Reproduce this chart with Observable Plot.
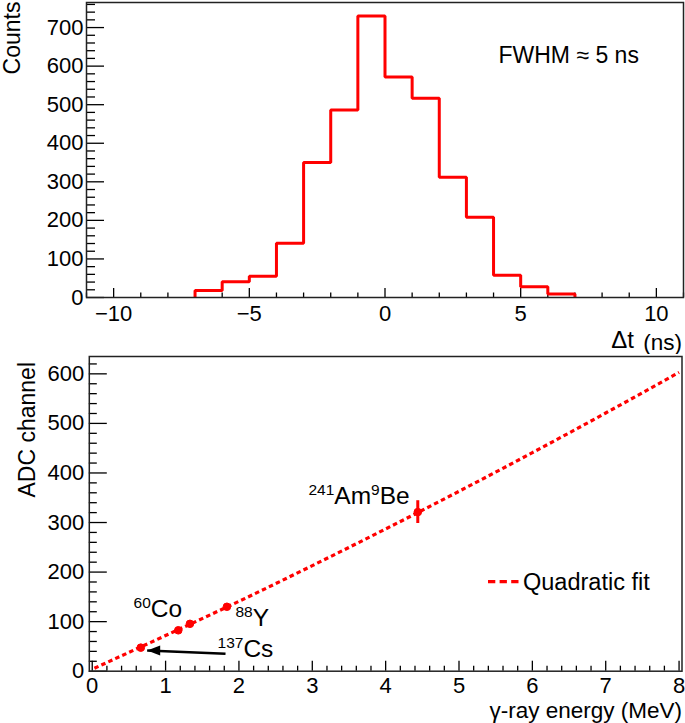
<!DOCTYPE html>
<html><head><meta charset="utf-8">
<script src="https://cdn.jsdelivr.net/npm/d3@7"></script>
<script src="https://cdn.jsdelivr.net/npm/@observablehq/plot@0.6"></script>
<style>
html,body{margin:0;padding:0;background:#fff;}
#wrap{position:relative;width:685px;height:723px;overflow:hidden;font-family:"Liberation Sans",Arial,sans-serif;}
#wrap svg{display:block;}
</style></head><body><div id="wrap"></div>
<script>
// ---------- top panel: time-difference histogram ----------
const binStart = [-7,-6,-5,-4,-3,-2,-1,0,1,2,3,4,5,6];
const binWidth = 1;
const counts = [18,41,55,141,350,486,730,572,517,312,208,58,28,9];
const dtTicks = [-10,-5,0,5,10];
const countTicks = [0,100,200,300,400,500,600,700];

// ---------- bottom panel: calibration ----------
const sources = ["137Cs","60Co","60Co","88Y","241Am9Be"];
const energy = [0.662,1.173,1.332,1.836,4.438];
const channel = [47.5,82.5,95.6,130,321];
const channelErr = [5,6,6,5,23];
const fitEnergy = [0.03,1,2,3,4,5,6,7,8];
const fitChannel = [6,72,141,213,287,363,441,521,603];
const energyTicks = [0,1,2,3,4,5,6,7,8];
const channelTicks = [0,100,200,300,400,500,600];
const labelText = ["^{241}Am^{9}Be","^{88}Y","^{137}Cs","^{60}Co"];
const labelEnergy = [2.948,1.953,1.708,0.563];
const labelChannel = [337.8,92.2,28.2,109];
const arrowTail = [1.817,35.1];
const arrowHead = [0.749,41.8];

const wrap = document.getElementById("wrap");
const FONT = "Liberation Sans, Arial, sans-serif";

// ===== TOP =====
const tW = 685, tH = 354, tML = 86, tMR = 2, tMT = 2, tMB = 57;
const tIW = tW - tML - tMR, tIH = tH - tMT - tMB;
const xMinorTop = d3.range(-11, 11.001, 1).filter(v => !dtTicks.includes(v));
const yMinorTop = d3.range(0, 765, 20).filter(v => !countTicks.includes(v));

const histPts = [{x: binStart[0], y: 0}];
binStart.forEach((s, i) => histPts.push({x: s, y: counts[i]}));
histPts.push({x: binStart[binStart.length - 1] + binWidth, y: counts[counts.length - 1]});
histPts.push({x: binStart[binStart.length - 1] + binWidth, y: 0});

const topPlot = Plot.plot({
  width: tW, height: tH,
  marginLeft: tML, marginRight: tMR, marginTop: tMT, marginBottom: tMB,
  style: {fontFamily: FONT, fontSize: "22px", color: "#000", background: "#fff"},
  x: {domain: [-11, 11], ticks: dtTicks, tickSize: 0, tickPadding: 8, label: null},
  y: {domain: [0, 765], ticks: countTicks, tickSize: 0, tickPadding: 3, label: null},
  marks: [
    Plot.tickX(dtTicks, {x: d => d, insetTop: tIH - 9, stroke: "#000", strokeWidth: 1.3}),
    Plot.tickX(xMinorTop, {x: d => d, insetTop: tIH - 4.5, stroke: "#000", strokeWidth: 1.3}),
    Plot.tickY(countTicks, {y: d => d, insetRight: tIW - 18, stroke: "#000", strokeWidth: 1.3}),
    Plot.tickY(yMinorTop, {y: d => d, insetRight: tIW - 9, stroke: "#000", strokeWidth: 1.3}),
    Plot.line(histPts, {x: "x", y: "y", curve: "step-after", stroke: "#ff0000", strokeWidth: 3, strokeLinejoin: "miter", strokeLinecap: "butt"}),
    Plot.frame({stroke: "#222", strokeWidth: 1.5})
  ]
});
wrap.appendChild(topPlot);
const ts = d3.select(topPlot);
ts.append("text").attr("transform", "translate(19.5,1.5) rotate(-90)")
  .attr("text-anchor", "end").attr("font-size", 23).attr("fill", "#000").text("Counts");
ts.append("text").attr("x", 498.5).attr("y", 62.7).attr("text-anchor", "start")
  .attr("font-size", 23).attr("fill", "#000").text("FWHM ≈ 5 ns");
ts.append("text").attr("x", 634).attr("y", 348.3).attr("text-anchor", "end")
  .attr("font-size", 24).attr("fill", "#000").text("Δt");
ts.append("text").attr("x", 682).attr("y", 349.5).attr("text-anchor", "end")
  .attr("font-size", 22.5).attr("fill", "#000").text("(ns)");

// ===== BOTTOM =====
const bW = 685, bH = 723 - tH, bML = 88.8, bMR = 3.5, bMT = 2, bMB = bH - (670.7 - tH);
const bIW = bW - bML - bMR, bIH = bH - bMT - bMB;
const xMinorBot = d3.range(0, 8.001, 0.2).map(v => +v.toFixed(1)).filter(v => !energyTicks.includes(v));
const yMinorBot = d3.range(0, 635, 20).filter(v => !channelTicks.includes(v));

const pts = energy.map((e, i) => ({e, c: channel[i], err: channelErr[i], s: sources[i]}));
const fitPts = fitEnergy.map((e, i) => ({e, c: fitChannel[i]}));
const labels = labelText.map((t, i) => ({t, e: labelEnergy[i], c: labelChannel[i]}));

const leftTriangle = {
  draw(ctx) { ctx.moveTo(-6.5, 0); ctx.lineTo(6.5, -5); ctx.lineTo(6.5, 5); ctx.closePath(); }
};

const botPlot = Plot.plot({
  width: bW, height: bH,
  marginLeft: bML, marginRight: bMR, marginTop: bMT, marginBottom: bMB,
  style: {fontFamily: FONT, fontSize: "22px", color: "#000", background: "#fff"},
  x: {domain: [-0.04, 8.04], ticks: energyTicks, tickSize: 0, tickPadding: 6.5, label: null},
  y: {domain: [0, 635], ticks: channelTicks, tickSize: 0, tickPadding: 5, label: null},
  marks: [
    Plot.tickX(energyTicks, {x: d => d, insetTop: bIH - 10, stroke: "#000", strokeWidth: 1.3}),
    Plot.tickX(xMinorBot, {x: d => d, insetTop: bIH - 5, stroke: "#000", strokeWidth: 1.3}),
    Plot.tickY(channelTicks, {y: d => d, insetRight: bIW - 18, stroke: "#000", strokeWidth: 1.3}),
    Plot.tickY(yMinorBot, {y: d => d, insetRight: bIW - 8, stroke: "#000", strokeWidth: 1.3}),
    Plot.line(fitPts, {x: "e", y: "c", curve: "natural", stroke: "#ff0000", strokeWidth: 3.2, strokeDasharray: "4.5,3.2", strokeLinecap: "butt"}),
    Plot.ruleX(pts, {x: "e", y1: d => d.c - d.err, y2: d => d.c + d.err, stroke: "#ff0000", strokeWidth: 3}),
    Plot.dot(pts, {x: "e", y: "c", r: 3.8, fill: "#ff0000", stroke: "#ff0000", strokeWidth: 1}),
    Plot.link([0], {x1: () => arrowTail[0], y1: () => arrowTail[1], x2: () => arrowHead[0], y2: () => arrowHead[1], stroke: "#000", strokeWidth: 2.4}),
    Plot.dot([0], {x: () => arrowHead[0], y: () => arrowHead[1], dx: 6.5, symbol: leftTriangle, fill: "#000", stroke: "none"}),
    Plot.text(labels, {x: "e", y: "c", text: "t", textAnchor: "start", lineAnchor: "bottom", fontSize: 24.5, fill: "#000"}),
    Plot.frame({stroke: "#222", strokeWidth: 1.5})
  ]
});
wrap.appendChild(botPlot);
const bs = d3.select(botPlot);

// superscripts
bs.selectAll("text").each(function() {
  const t = this.textContent;
  if (!t || !t.includes("^{")) return;
  const sel = d3.select(this);
  sel.text(null);
  const re = /\^\{([^}]*)\}|([^\^]+)/g;
  let m, raised = false;
  while ((m = re.exec(t))) {
    if (m[1] !== undefined) {
      sel.append("tspan").attr("font-size", 15.5).attr("dy", raised ? 0 : -9).text(m[1]);
      raised = true;
    } else {
      sel.append("tspan").attr("dy", raised ? 9 : 0).text(m[2]);
      raised = false;
    }
  }
});

bs.append("text").attr("transform", "translate(35," + (362 - tH) + ") rotate(-90)")
  .attr("text-anchor", "end").attr("font-size", 23).attr("fill", "#000").text("ADC channel");
bs.append("text").attr("x", 682).attr("y", 718 - tH).attr("text-anchor", "end")
  .attr("font-size", 22.5).attr("fill", "#000").text("γ-ray energy (MeV)");
// legend
bs.append("line").attr("x1", 488).attr("x2", 520).attr("y1", 581.7 - tH).attr("y2", 581.7 - tH)
  .attr("stroke", "#ff0000").attr("stroke-width", 3.2).attr("stroke-dasharray", "7.3,4.3");
bs.append("text").attr("x", 523).attr("y", 590 - tH).attr("text-anchor", "start")
  .attr("font-size", 23.5).attr("fill", "#000").text("Quadratic fit");
</script></body></html>
